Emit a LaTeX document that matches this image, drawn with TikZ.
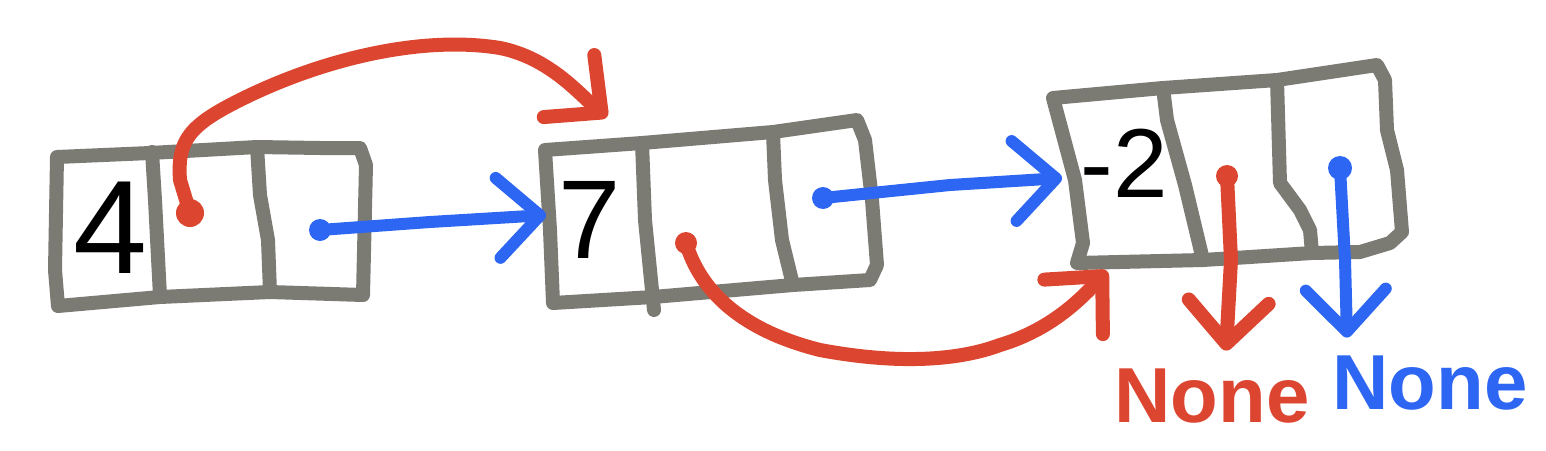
\documentclass[tikz,border=0pt]{standalone}
\usepackage{fontspec}
\setmainfont{Liberation Sans}
\usetikzlibrary{arrows.meta}
\definecolor{boxgray}{HTML}{7B7B74}
\definecolor{pred}{HTML}{DC4530}
\definecolor{pblue}{HTML}{2D66F2}
\begin{document}
\begin{tikzpicture}[x=1pt,y=-1pt,
  cell/.style={draw=boxgray, line width=14pt, line join=round, line cap=round},
  redline/.style={draw=pred, line width=14pt, line cap=round, line join=round},
  blueline/.style={draw=pblue, line width=12pt, line cap=round, line join=round},
  barb/.style={-{Straight Barb[length=42pt,width=80pt,round]}},
  digit/.style={inner sep=0pt, text=black},
  nonelabel/.style={inner sep=0pt, font=\fontsize{78}{78}\selectfont\bfseries}
]
\useasboundingbox (0,0) rectangle (1546,450);

% box 1
\draw[cell] (57,157) -- (150,153) -- (257,147) -- (320,148) -- (360,148) -- (366,165) -- (363,295) -- (270,292) -- (160,297) -- (58,306) -- (55,270) -- cycle;
\draw[cell] (152,152) -- (155,200) -- (160,296);
\draw[cell] (257,147) -- (260,195) -- (268,240) -- (270,292);
% box 2
\draw[cell] (545,150) -- (642,143) -- (773,132) -- (857,120) -- (865,140) -- (872,200) -- (877,265) -- (870,280) -- (793,285) -- (653,297) -- (553,303) -- (550,230) -- cycle;
\draw[cell] (642,143) -- (645,220) -- (653,300) -- (654,310);
\draw[cell] (773,133) -- (775,180) -- (782,240) -- (793,285);
% box 3
\draw[cell] (1053,98) -- (1163,88) -- (1277,80) -- (1377,65) -- (1385,80) -- (1387,130) -- (1397,170) -- (1402,232) -- (1390,243) -- (1360,252) -- (1312,253) -- (1203,260) -- (1077,263) -- (1083,243) -- (1075,180) -- cycle;
\draw[cell] (1163,88) -- (1167,120) -- (1185,185) -- (1203,260);
\draw[cell] (1277,80) -- (1280,183) -- (1300,210) -- (1310,230) -- (1312,253);

% values
\node[digit, font=\fontsize{133}{133}\selectfont] (v1) at (110,228) {4};
\node[digit, font=\fontsize{112}{112}\selectfont] (v2) at (590,220) {7};
\node[digit, font=\fontsize{98}{98}\selectfont] (v3) at (1124,163) {-2};

% pointer origins and targets
\coordinate (r1) at (190,213);
\coordinate (b1) at (320,230);
\coordinate (r2) at (686,243);
\coordinate (b2) at (823,198);
\coordinate (r3) at (1227,176);
\coordinate (b3) at (1340,168);
\coordinate (in2top) at (607,117);
\coordinate (in2left) at (546,215);
\coordinate (in3bot) at (1107,271);
\coordinate (in3left) at (1062,178);

% None labels
\node[nonelabel, text=pred] (n1) at (1212,396) {None};
\node[nonelabel, text=pblue] (n2) at (1430,383) {None};

% dots
\fill[pred] (r1) circle (14pt);
\fill[pred] (r2) circle (11pt);
\fill[pred] (r3) circle (11pt);
\fill[pblue] (b1) circle (11pt);
\fill[pblue] (b2) circle (11pt);
\fill[pblue] (b3) circle (12pt);

% connectors
\draw[redline, barb] (r1) -- (180,180) .. controls (177,140) and (190,125) .. (240,100)
  .. controls (320,60) and (420,35) .. (500,48) .. controls (550,58) and (580,95) .. (in2top);
\draw[blueline, barb] (b1) -- (430,222) -- (in2left);
\draw[redline, barb] (r2) .. controls (700,290) and (740,330) .. (820,350)
  .. controls (900,365) and (960,360) .. (1000,345) .. controls (1050,330) and (1080,300) .. (in3bot);
\draw[blueline, barb] (b2) -- (950,185) -- (in3left);
\draw[redline, barb] (r3) -- (1231,260) -- ([xshift=14pt,yshift=18pt]n1.north);
\draw[blueline, barb] (b3) -- (1345,260) -- ([xshift=-83pt,yshift=18pt]n2.north);
\end{tikzpicture}
\end{document}
